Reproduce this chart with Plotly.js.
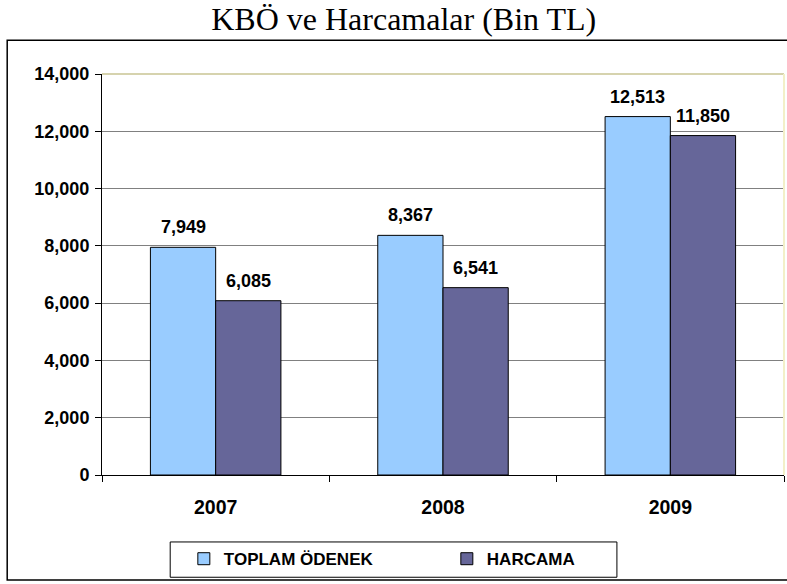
<!DOCTYPE html>
<html>
<head>
<meta charset="utf-8">
<script src="https://cdn.plot.ly/plotly-3.0.1.min.js"></script>
<style>html,body{margin:0;padding:0;background:#fff;}#chart{width:787px;height:584px;}</style>
</head>
<body>
<div id="chart"></div>
<script>
var years = ['2007', '2008', '2009'];
var toplamOdenek = [7949, 8367, 12513];
var harcama = [6085, 6541, 11850];
var seriesNames = ['TOPLAM ÖDENEK', 'HARCAMA'];
var yTicks = [0, 2000, 4000, 6000, 8000, 10000, 12000, 14000];

var sans = 'Liberation Sans, Arial, sans-serif';
var labelFont = {family: sans, size: 18, color: '#000', weight: 'bold'};
function fmt(v){ return v.toLocaleString('en-US'); }

var traces = [
  {
    type: 'bar', name: seriesNames[0], x: years, y: toplamOdenek,
    marker: {color: '#99CCFF', line: {color: '#000', width: 1}},
    hoverinfo: 'none'
  },
  {
    type: 'bar', name: seriesNames[1], x: years, y: harcama,
    marker: {color: '#666699', line: {color: '#000', width: 1}},
    hoverinfo: 'none'
  }
];

var annotations = [];
[toplamOdenek, harcama].forEach(function(series, si){
  series.forEach(function(v, i){
    annotations.push({
      x: i, y: v, xref: 'x', yref: 'y', text: fmt(v), showarrow: false,
      xanchor: 'center', yanchor: 'bottom', xshift: si === 0 ? -32.5 : 32.5, yshift: 8,
      font: labelFont
    });
  });
});

var layout = {
  width: 787, height: 584,
  margin: {l: 102, r: 3, t: 74, b: 109},
  paper_bgcolor: '#fff', plot_bgcolor: '#fff',
  title: {text: 'KBÖ ve Harcamalar (Bin TL)', font: {family: 'Liberation Serif, Times New Roman, serif', size: 32, color: '#000', weight: 'normal'}, x: 0.513, xanchor: 'center', y: 0.967, yanchor: 'middle'},
  barmode: 'group', bargap: 0.426, bargroupgap: 0,
  font: {family: sans, size: 18, color: '#000'},
  xaxis: {
    type: 'category', range: [-0.5, 2.5], autorange: false,
    showgrid: false, showline: true, linecolor: '#000', linewidth: 1,
    ticks: 'outside', ticklen: 6, tickcolor: '#000', tickson: 'boundaries',
    tickfont: {family: sans, size: 19.5, color: '#000', weight: 'bold'},
    ticklabelstandoff: 15, zeroline: false
  },
  yaxis: {
    range: [0, 14000], autorange: false, tickvals: yTicks, ticktext: yTicks.map(fmt),
    showgrid: true, gridcolor: '#808080', gridwidth: 1,
    showline: true, linecolor: '#000', linewidth: 1,
    ticks: 'outside', ticklen: 6, tickcolor: '#000',
    tickfont: {family: sans, size: 18, color: '#000', weight: 'bold'},
    ticklabelstandoff: 2,
    zeroline: false
  },
  showlegend: true,
  legend: {
    orientation: 'h', x: 0.12, xanchor: 'left', y: -0.165, yanchor: 'top',
    borderwidth: 0, bgcolor: 'rgba(0,0,0,0)',
    font: {family: sans, size: 17, color: '#000', weight: 'bold'},
    entrywidth: 218, itemclick: false, itemdoubleclick: false
  },
  annotations: annotations,
  shapes: [
    {type: 'line', xref: 'paper', yref: 'paper', x0: 0, x1: 1, y0: 1, y1: 1, line: {color: '#D6D3AE', width: 2}},
    {type: 'line', xref: 'paper', yref: 'paper', x0: 1, x1: 1, y0: 0, y1: 1, line: {color: '#F2F0C8', width: 2}},
    {type: 'rect', xref: 'paper', yref: 'paper', x0: -0.139, x1: 1.012, y0: -0.262, y1: 1.084, line: {color: '#000', width: 1.5}, fillcolor: 'rgba(0,0,0,0)', layer: 'below'},
    {type: 'rect', xref: 'paper', yref: 'paper', x0: 0.1, x1: 0.755, y0: -0.167, y1: -0.255, line: {color: '#000', width: 1}, fillcolor: 'rgba(0,0,0,0)', layer: 'below'}
  ]
};

Plotly.newPlot('chart', traces, layout, {staticPlot: true, displayModeBar: false});
</script>
</body>
</html>
